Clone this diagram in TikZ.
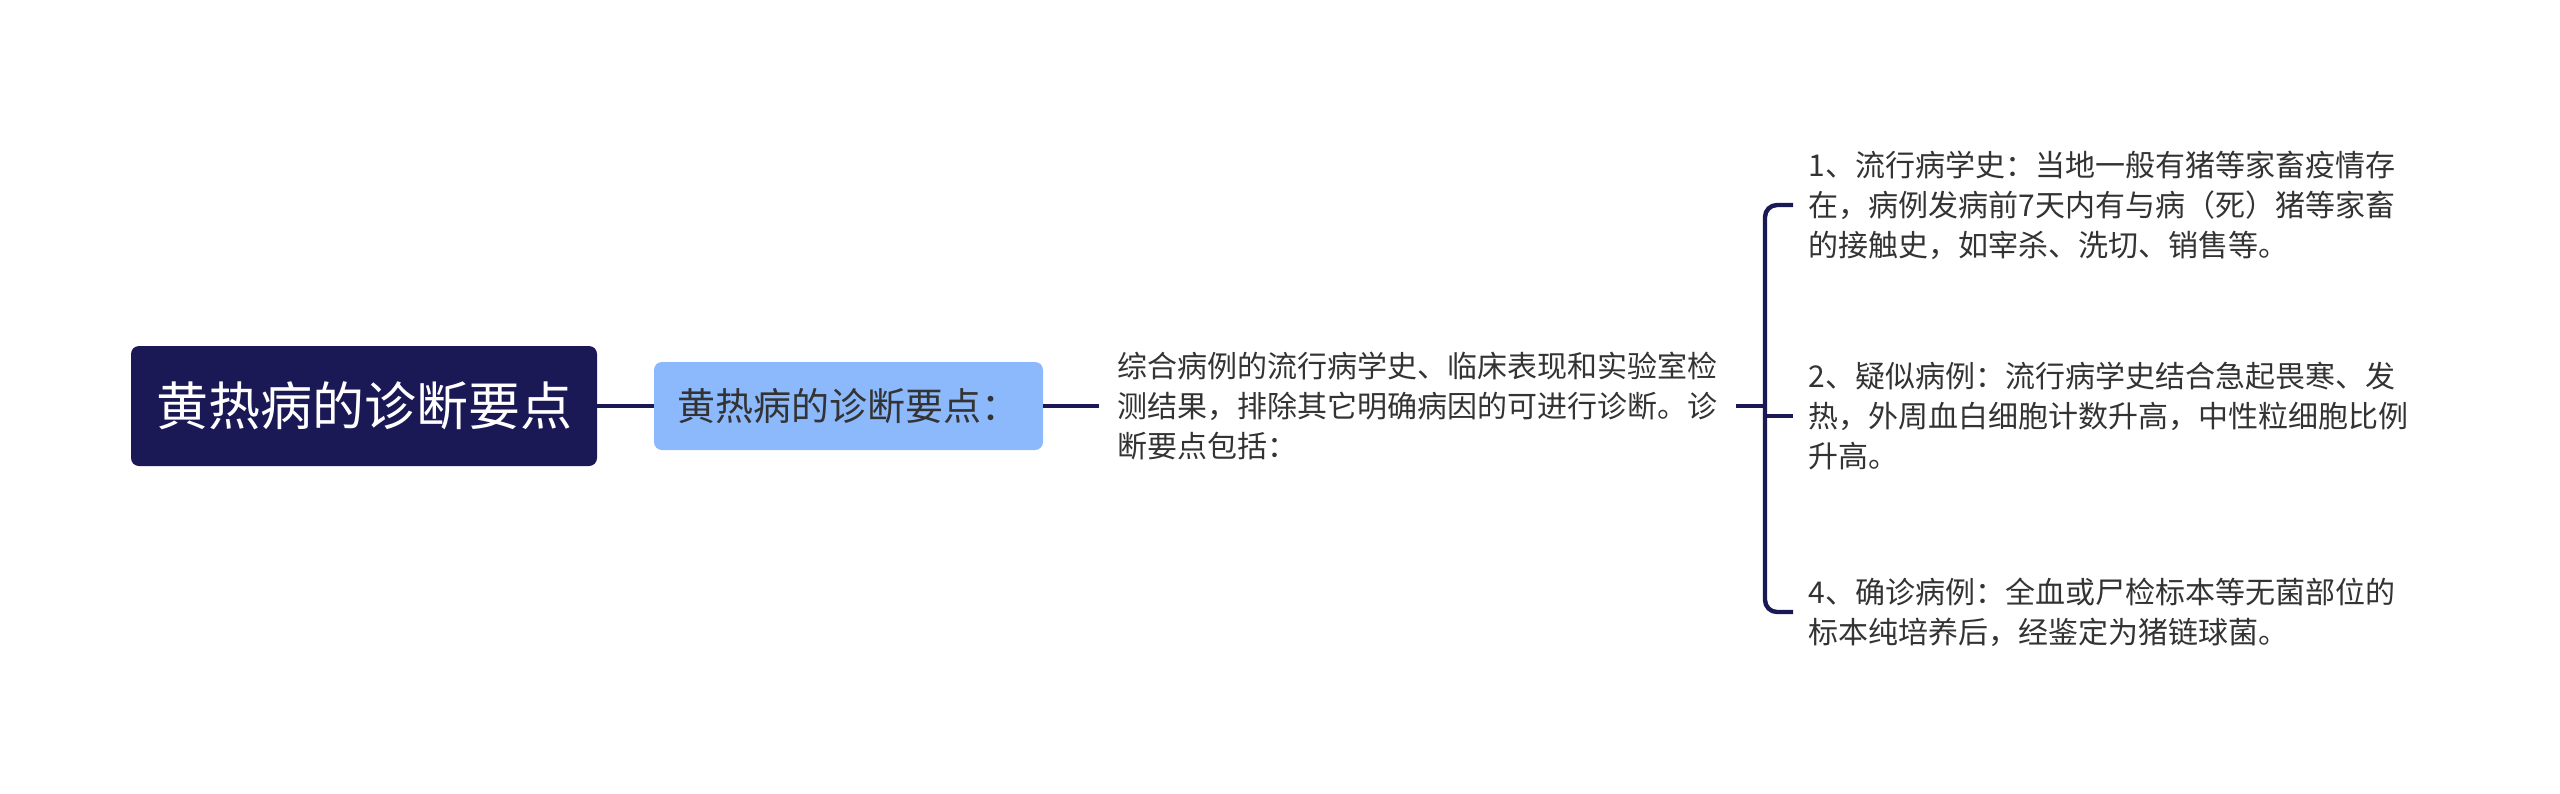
\documentclass[tikz,border=0pt]{standalone}
\usepackage{fontspec}
\setmainfont{Noto Sans CJK SC}
\usepackage{xcolor}
\usepackage{tikz}
\usetikzlibrary{calc}
\definecolor{navy}{HTML}{1B1856}
\definecolor{sky}{HTML}{8CB8FC}
\definecolor{ink}{HTML}{333333}
\tikzset{
  root/.style={fill=navy, rounded corners=4pt, text=white, inner sep=0pt,
    minimum width=233pt, minimum height=60pt, font=\fontsize{26}{30}\selectfont},
  sub/.style={fill=sky, rounded corners=4pt, text=ink, inner sep=0pt,
    minimum width=194.5pt, minimum height=44pt, font=\fontsize{19}{23}\selectfont},
  txt/.style={text=ink, align=left, anchor=west, inner ysep=0pt,
    font=\fontsize{15}{20}\selectfont},
  link/.style={draw=navy, line width=2.2pt, rounded corners=6pt},
}

\begin{document}
\begin{tikzpicture}[x=0.5pt,y=-0.5pt]
  \useasboundingbox (0,0) rectangle (2560,793);
  \node[root] (main) at (364,406) {黄热病的诊断要点};
  \node[sub] (key) at (848.5,406) {黄热病的诊断要点：};
  \node[txt, inner xsep=9pt] (desc) at (1099,406)
    {综合病例的流行病学史、临床表现和实验室检\\测结果，排除其它明确病因的可进行诊断。诊\\断要点包括：};
  \coordinate (spine) at (1765,406);
  \foreach \n/\y/\t in {
    p1/205/{1、流行病学史：当地一般有猪等家畜疫情存\\在，病例发病前7天内有与病（死）猪等家畜\\的接触史，如宰杀、洗切、销售等。},
    p2/416/{2、疑似病例：流行病学史结合急起畏寒、发\\热，外周血白细胞计数升高，中性粒细胞比例\\升高。},
    p4/612/{4、确诊病例：全血或尸检标本等无菌部位的\\标本纯培养后，经鉴定为猪链球菌。}}
    \node[txt, inner xsep=7.5pt] (\n) at (1793,\y) {\t};
  \draw[link] (main) -- (key);
  \draw[link] (key) -- (desc);
  \draw[link] (desc) -- (spine);
  \draw[link] (p1.west) -| (spine) |- (p4.west);
  \draw[link] (spine |- p2.west) -- (p2.west);
\end{tikzpicture}
\end{document}
